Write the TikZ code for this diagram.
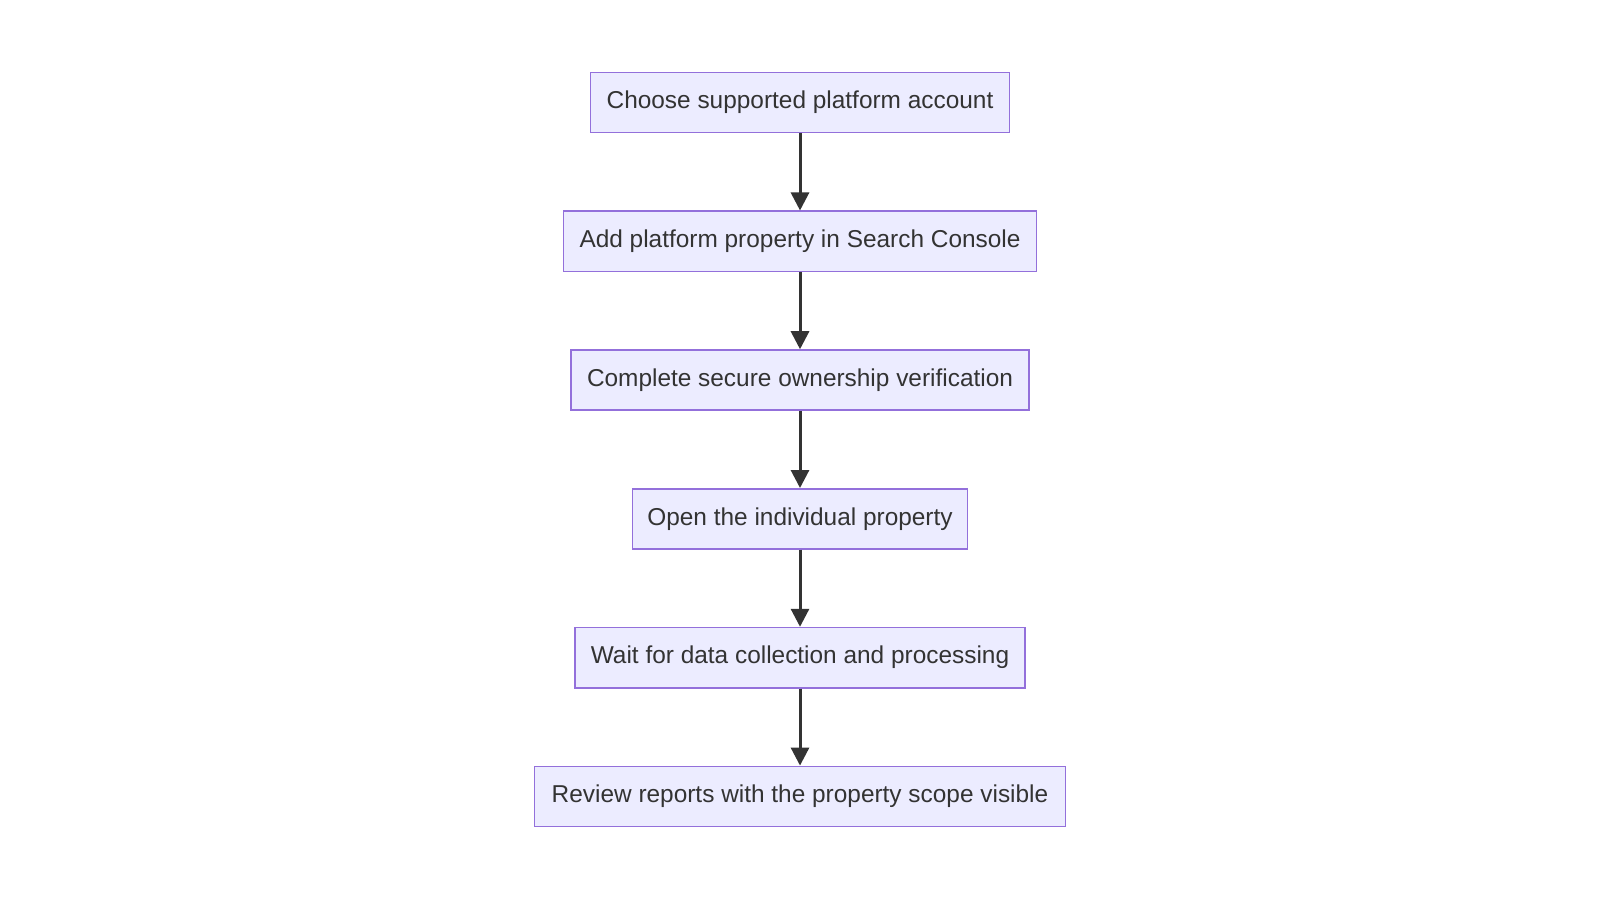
\documentclass[tikz,border=0pt]{standalone}
\usepackage{fontspec}
\setmainfont{Liberation Sans}
\usetikzlibrary{arrows.meta}
\definecolor{boxfill}{HTML}{ECECFF}
\definecolor{boxline}{HTML}{9370DB}
\definecolor{txt}{HTML}{333333}
\begin{document}
\begin{tikzpicture}[x=0.51pt,y=-0.51pt,
  box/.style={draw=boxline,fill=boxfill,line width=0.75pt,minimum height=30.1pt,inner sep=0pt,text=txt,font=\fontsize{12.2}{14}\selectfont},
  arr/.style={draw=txt,line width=1.5pt,-{Triangle[length=9pt,width=9pt]}}]
\useasboundingbox (0,0) rectangle (1568,882);
\node[box,minimum width=209.2pt] (a) at (784,100.5) {Choose supported platform account};
\node[box,minimum width=236.6pt] (b) at (784,236.5) {Add platform property in Search Console};
\node[box,minimum width=229pt] (c) at (784,372.5) {Complete secure ownership verification};
\node[box,minimum width=167.3pt] (d) at (784,508.5) {Open the individual property};
\node[box,minimum width=225pt] (e) at (784,644.5) {Wait for data collection and processing};
\node[box,minimum width=265.2pt] (f) at (784,780.5) {Review reports with the property scope visible};
\draw[arr] (a) -- (b);
\draw[arr] (b) -- (c);
\draw[arr] (c) -- (d);
\draw[arr] (d) -- (e);
\draw[arr] (e) -- (f);
\end{tikzpicture}
\end{document}
